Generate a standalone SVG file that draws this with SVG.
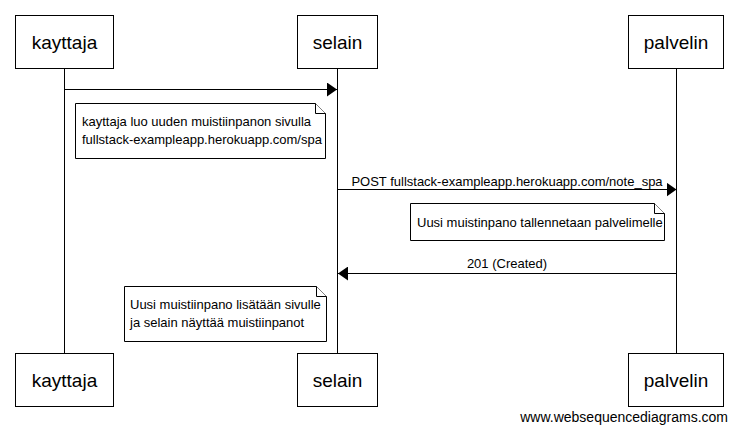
<svg xmlns="http://www.w3.org/2000/svg" width="737" height="432" viewBox="0 0 737 432">
<style>
.box{fill:#fff;stroke:#000;stroke-width:1}
.life{stroke:#000;stroke-width:1}
.msg{stroke:#000;stroke-width:1;fill:none}
.note{fill:#fff;stroke:#000;stroke-width:1}
.pt{font-family:"Liberation Sans",Arial,sans-serif;font-size:19px;fill:#000;text-anchor:middle}
.t{font-family:"Liberation Sans",Arial,sans-serif;font-size:13px;fill:#000}
.wm{font-family:"Liberation Sans",Arial,sans-serif;font-size:14px;fill:#000;text-anchor:end}
</style>
<defs>
<marker id="ah" viewBox="0 0 10 14" refX="10" refY="7" markerWidth="10" markerHeight="14" markerUnits="userSpaceOnUse" orient="auto">
<path d="M0,0 L10,7 L0,14 Z" fill="#000"/>
</marker>
</defs>
<rect width="737" height="432" fill="#fff"/>
<g id="lifelines">
<line class="life" x1="64.5" y1="68" x2="64.5" y2="354"/>
<line class="life" x1="337.5" y1="68" x2="337.5" y2="354"/>
<line class="life" x1="676.5" y1="68" x2="676.5" y2="354"/>
</g>
<g id="connectors">
<line class="msg" x1="64.5" y1="89.5" x2="337" y2="89.5" marker-end="url(#ah)"/>
<line class="msg" x1="337.5" y1="189.5" x2="676.5" y2="189.5" marker-end="url(#ah)"/>
<text class="t" x="507" y="186" text-anchor="middle">POST fullstack-exampleapp.herokuapp.com/note_spa</text>
<line class="msg" x1="676.5" y1="273.5" x2="338" y2="273.5" marker-end="url(#ah)"/>
<text class="t" x="507" y="268" text-anchor="middle">201 (Created)</text>
</g>
<g id="kayttaja">
<rect class="box" x="15.5" y="15.5" width="98" height="53"/>
<text class="pt" x="64.5" y="49">kayttaja</text>
<rect class="box" x="15.5" y="353.5" width="98" height="53"/>
<text class="pt" x="64.5" y="387">kayttaja</text>
</g>
<g id="selain">
<rect class="box" x="297.5" y="15.5" width="80" height="53"/>
<text class="pt" x="337.5" y="49">selain</text>
<rect class="box" x="297.5" y="353.5" width="80" height="53"/>
<text class="pt" x="337.5" y="387">selain</text>
</g>
<g id="palvelin">
<rect class="box" x="628.5" y="15.5" width="95" height="53"/>
<text class="pt" x="676" y="49">palvelin</text>
<rect class="box" x="628.5" y="353.5" width="95" height="53"/>
<text class="pt" x="676" y="387">palvelin</text>
</g>
<g id="note1">
<path class="note" d="M75.5,103.5 H315.5 L325.5,113.5 V158.5 H75.5 Z"/>
<path class="note" fill="none" d="M315.5,103.5 V113.5 H325.5"/>
<text class="t" x="82" y="126">kayttaja luo uuden muistiinpanon sivulla</text>
<text class="t" x="82" y="144">fullstack-exampleapp.herokuapp.com/spa</text>
</g>
<g id="note2">
<path class="note" d="M410.5,203.5 H654.5 L664.5,213.5 V240.5 H410.5 Z"/>
<path class="note" fill="none" d="M654.5,203.5 V213.5 H664.5"/>
<text class="t" x="417" y="227">Uusi muistinpano tallennetaan palvelimelle</text>
</g>
<g id="note3">
<path class="note" d="M124.5,286.5 H316.5 L326.5,296.5 V341.5 H124.5 Z"/>
<path class="note" fill="none" d="M316.5,286.5 V296.5 H326.5"/>
<text class="t" x="130" y="309">Uusi muistiinpano lisätään sivulle</text>
<text class="t" x="130" y="327">ja selain näyttää muistiinpanot</text>
</g>
<text class="wm" x="728" y="422">www.websequencediagrams.com</text>
</svg>
